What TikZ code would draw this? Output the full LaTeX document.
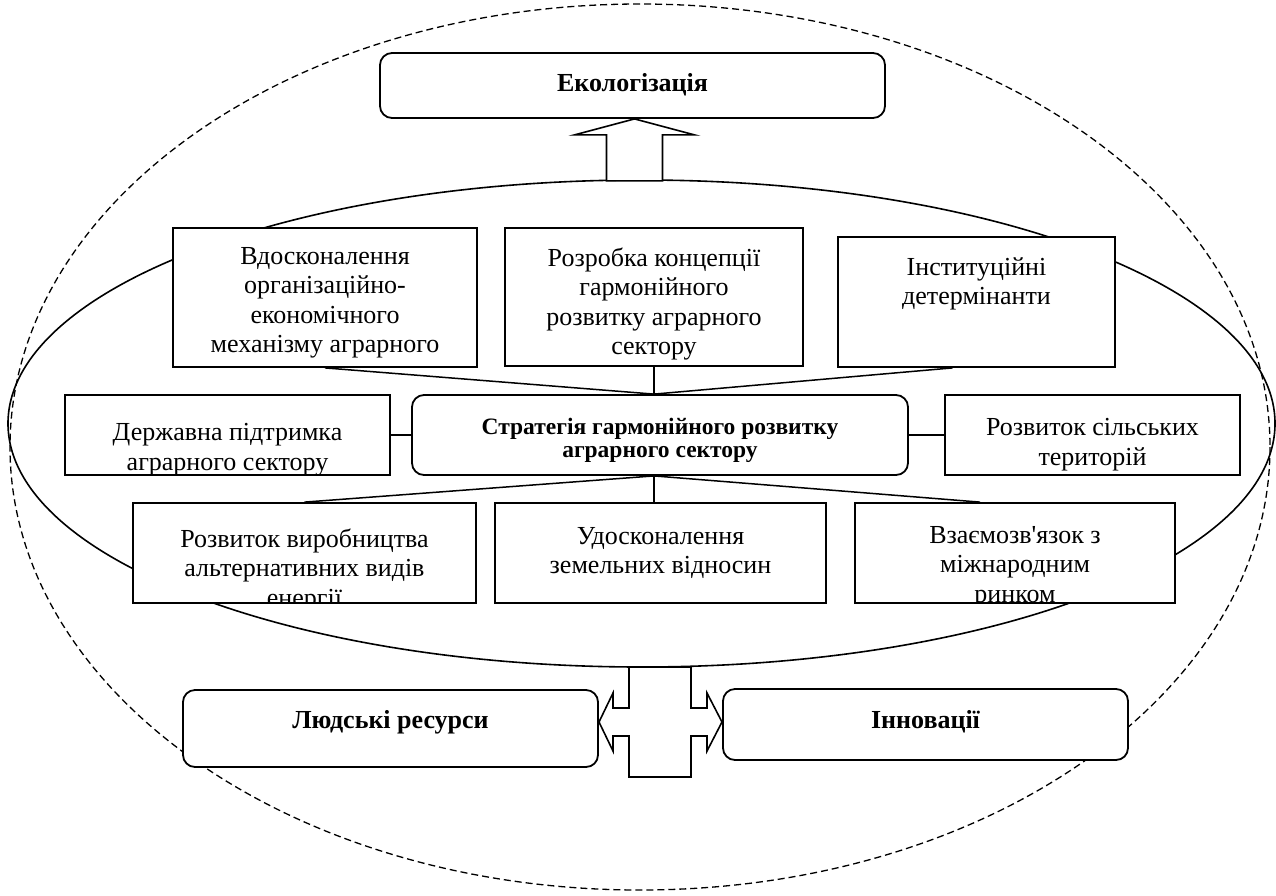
\documentclass[tikz,border=0pt]{standalone}
\usepackage{fontspec}
\setmainfont{Liberation Serif}[Ligatures=TeXOff]
\tikzset{
  blk/.style={draw, fill=white, line width=1.8, inner sep=0pt},
  rblk/.style={blk, rounded corners=12},
  txt/.style={draw=none, fill=none, rectangle, inner sep=0pt, minimum width=0pt, minimum height=0pt, anchor=north, align=center, font=\fontsize{26}{29.5}\selectfont},
  say/.style 2 args={path picture={\node[txt] at ([yshift=-#1]path picture bounding box.north) {#2};}},
  bsay/.style 2 args={path picture={\node[txt, font=\bfseries\fontsize{23.5}{23}\selectfont] at ([yshift=-#1]path picture bounding box.north) {#2};}},
  link/.style={line width=1.5},
}
\begin{document}
\begin{tikzpicture}[x=1pt,y=-1pt]
  \useasboundingbox (0,0) rectangle (1276,895);

  % ellipses
  \draw[dash pattern=on 7pt off 4pt, line width=1.3] (640,447) ellipse [x radius=630, y radius=443];
  \draw[line width=1.6] (641.5,423.5) ellipse [x radius=633.5, y radius=243.5];

  \node (ekol) at (632.5,85.5) [rblk, minimum width=505, minimum height=65, say={19.5}{\bfseries Екологізація}] {};

  % top row
  \node (vdos) at (325,297.5) [blk, minimum width=304, minimum height=139, say={18.5}{Вдосконалення\\організаційно-\\економічного\\механізму аграрного}] {};
  \node (rozr) at (654,297) [blk, minimum width=298, minimum height=138, say={18.5}{Розробка концепції\\гармонійного\\розвитку аграрного\\сектору}] {};
  \node (inst) at (976.5,302) [blk, minimum width=277, minimum height=130, say={19.5}{Інституційні\\детермінанти}] {};

  % middle row
  \node (derzh) at (227.5,435) [blk, minimum width=325, minimum height=80, say={27.5}{Державна підтримка\\аграрного сектору}] {};
  \node (strat) at (660,435) [rblk, minimum width=496, minimum height=80, bsay={22}{Стратегія гармонійного розвитку\\аграрного сектору}] {};
  \node (rozv) at (1092.5,435) [blk, minimum width=295, minimum height=80, say={22.5}{Розвиток сільських\\територій}] {};

  % bottom row
  \node (altern) at (304.5,553) [blk, minimum width=343, minimum height=100, say={24.5}{Розвиток виробництва\\альтернативних видів\\енергії}] {};
  \node (zem) at (660.5,553) [blk, minimum width=331, minimum height=100, say={23.5}{Удосконалення\\земельних відносин}] {};
  \node (vzaem) at (1015,553) [blk, minimum width=320, minimum height=100, say={22.5}{Взаємозв'язок з\\міжнародним\\ринком}] {};

  \node (lres) at (390.5,728.5) [rblk, minimum width=415, minimum height=77, say={19.5}{\bfseries Людські ресурси}] {};
  \node (innov) at (925.5,724.5) [rblk, minimum width=405, minimum height=71, say={20.5}{\bfseries Інновації}] {};

  \draw[link] (vdos.south) -- (rozr.south |- strat.north);
  \draw[link] (rozr.south) -- (rozr.south |- strat.north);
  \draw[link] ([xshift=-24]inst.south) -- (rozr.south |- strat.north);

  \draw[link] (derzh.east) -- (strat.west);
  \draw[link] (strat.east) -- (rozv.west);

  \draw[link] (rozr.south |- strat.south) -- (altern.north);
  \draw[link] (rozr.south |- strat.south) -- (rozr.south |- zem.north);
  \draw[link] (rozr.south |- strat.south) -- ([xshift=-35]vzaem.north);

  % hollow arrow up
  \draw[blk, line width=1.6] ([xshift=2]ekol.south) -- ++(60,16) -- ++(-32,0) -- ++(0,46) -- ++(-56,0) -- ++(0,-46) -- ++(-32,0) -- cycle;

  % double arrow
  \coordinate (cross) at (660,722);
  \draw[blk, line width=1.6, shift={(cross)}] (-31,-55) -- (-31,-14) -- (-47,-14) -- (-47,-29) -- (-61,0) -- (-47,29) -- (-47,14) -- (-31,14) -- (-31,55) -- (31,55) -- (31,14) -- (47,14) -- (47,29) -- (62,0) -- (47,-29) -- (47,-14) -- (31,-14) -- (31,-55) -- cycle;

\end{tikzpicture}
\end{document}
